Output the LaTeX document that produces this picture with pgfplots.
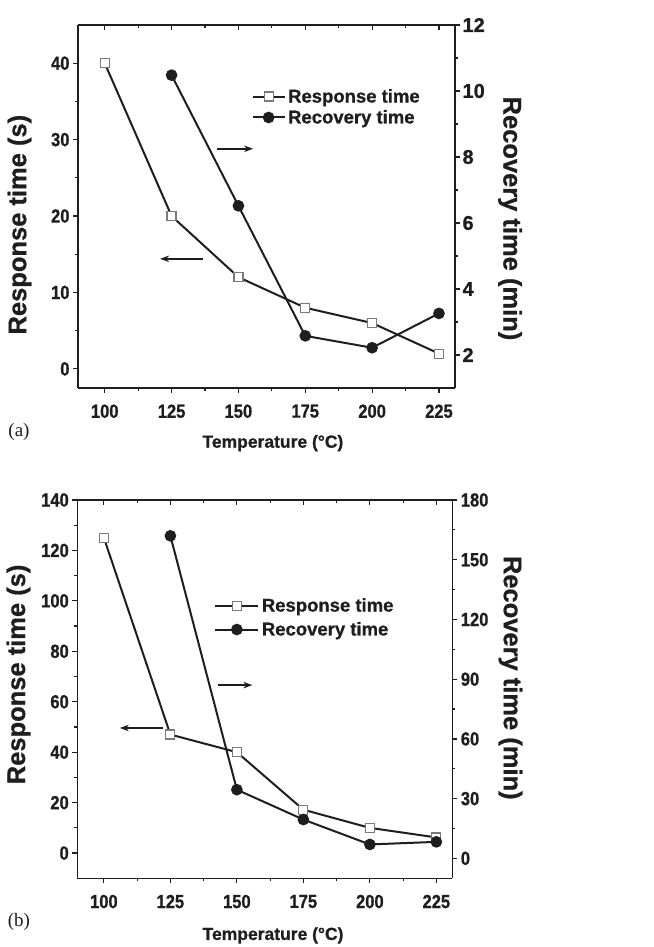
\documentclass[border=0pt]{standalone}
\usepackage{pgfplots}
\pgfplotsset{compat=1.18}
\usetikzlibrary{arrows.meta}
\usepackage{fontspec}
\setmainfont{Liberation Sans}[BoldFeatures={FakeBold=0.8}]
\newfontfamily\condfont{Liberation Sans}[FakeStretch=0.87, BoldFeatures={FakeBold=0.8}]
\newfontfamily\serifont{Liberation Serif}

\definecolor{ink}{HTML}{1E1E1E}
\definecolor{sqedge}{HTML}{7A7A7A}

\pgfplotsset{
  panel/.style={
    scale only axis, anchor=south west,
    xmin=90, xmax=231,
    xtick={100,125,...,225}, minor x tick num=1,
    axis line style={line width=1.4pt, ink},
    every tick/.style={line width=1.2pt, ink},
    major tick length=5pt, minor tick length=3pt,
    /pgf/number format/assume math mode=true,
    tick label style={font=\condfont\bfseries\fontsize{19}{19}\selectfont, text=ink},
    label style={font=\bfseries\fontsize{25.5}{25.5}\selectfont, text=ink},
  },
  resp/.style={ink, line width=2pt, mark=square*, mark size=4.5pt,
    mark options={fill=white, draw=sqedge, line width=1.2pt}},
  recv/.style={ink, line width=2pt, mark=*, mark size=4.8pt,
    mark options={fill=ink, draw=ink}},
  leg/.style 2 args={legend style={draw=none, fill=none, inner sep=0pt,
      font=\bfseries\fontsize{18.5}{18.5}\selectfont, text=ink,
      nodes={inner ysep=1.5pt, inner xsep=2.5pt}, row sep=#1},
    legend cell align=left,
    legend image code/.code={%
      \draw[mark repeat=2, mark phase=2] plot coordinates {(0pt,0pt) (#2/2,0pt) (#2,0pt)};}},
}

\begin{document}
\begin{tikzpicture}[x=1pt, y=1pt]
\path (0,0) rectangle (653,947);

% ---------------- (a) ----------------
\begin{axis}[panel, at={(78pt,559pt)}, width=377pt, height=363pt,
  ymin=-2.5, ymax=45, ytick={0,10,...,40}, minor y tick num=1,
  axis x line*=bottom, axis y line*=left, tick align=outside,
  xlabel={Temperature (\textdegree C)},
  ylabel={Response time (s)},
  x label style={at={(axis description cs:0.517,-0.152)}, anchor=center, font=\bfseries\fontsize{17.5}{17.5}\selectfont},
  y label style={at={(axis description cs:-0.155,0.45)}, anchor=center, rotate=0},
  xticklabel style={yshift=-8pt},
]
\addplot[resp] coordinates {(100,40) (125,20) (150,12) (175,8) (200,6) (225,2)};
\draw[-{Stealth[length=9pt,width=6.5pt]}, line width=1.8pt, ink] (axis cs:142,28.8) -- (axis cs:155.5,28.8);
\draw[-{Stealth[length=9pt,width=6.5pt]}, line width=1.8pt, ink] (axis cs:136.7,14.4) -- (axis cs:120.7,14.4);
\end{axis}

\begin{axis}[panel, at={(78pt,559pt)}, width=377pt, height=363pt,
  ymin=1, ymax=12, ytick={2,4,...,12}, minor y tick num=1,
  axis x line=none, axis y line*=right, tick align=outside,
  ylabel={Recovery time (min)},
  y label style={at={(axis description cs:1.146,0.467)}, anchor=center, rotate=180},
  yticklabel style={font=\bfseries\fontsize{20}{20}\selectfont, xshift=-1pt},
  leg={3pt}{32pt},
  legend style={at={(axis description cs:0.46,0.828)}, anchor=north west},
]
\addlegendimage{resp}
\addlegendentry{Response time}
\addplot[recv] coordinates {(125,10.48) (150,6.52) (175,2.58) (200,2.22) (225,3.26)};
\addlegendentry{Recovery time}
\end{axis}

\begin{axis}[panel, at={(78pt,559pt)}, width=377pt, height=363pt,
  ymin=0, ymax=1, axis y line=none, axis x line*=top, tick align=inside,
  xticklabels={},
]
\end{axis}

\node[font=\serifont\fontsize{19}{19}\selectfont, text=ink] at (19,515) {(a)};

% ---------------- (b) ----------------
\begin{axis}[panel, at={(77.3pt,68.7pt)}, width=375pt, height=378.3pt,
  ymin=-10, ymax=140, ytick={0,20,...,140}, minor y tick num=1,
  axis x line*=bottom, axis y line*=left, tick align=outside,
  xlabel={Temperature (\textdegree C)},
  ylabel={Response time (s)},
  x label style={at={(axis description cs:0.522,-0.151)}, anchor=center, font=\bfseries\fontsize{17.5}{17.5}\selectfont},
  y label style={at={(axis description cs:-0.157,0.539)}, anchor=center, rotate=0},
  xticklabel style={yshift=-8pt},
]
\addplot[resp] coordinates {(100,125) (125,47) (150,40) (175,17.2) (200,10) (225,6.2)};
\draw[-{Stealth[length=9pt,width=6.5pt]}, line width=1.8pt, ink] (axis cs:142.9,66.6) -- (axis cs:155.8,66.6);
\draw[-{Stealth[length=9pt,width=6.5pt]}, line width=1.8pt, ink] (axis cs:122.2,49.6) -- (axis cs:106,49.6);
\end{axis}

\begin{axis}[panel, at={(77.3pt,68.7pt)}, width=375pt, height=378.3pt,
  ymin=-10, ymax=180, ytick={0,30,...,180}, minor y tick num=1,
  axis x line=none, axis y line*=right, tick align=outside,
  ylabel={Recovery time (min)},
  y label style={at={(axis description cs:1.155,0.53)}, anchor=center, rotate=180},
  leg={6pt}{43pt},
  legend style={at={(axis description cs:0.365,0.745)}, anchor=north west},
]
\addlegendimage{resp}
\addlegendentry{Response time}
\addplot[recv] coordinates {(125,162) (150,34.5) (175,19.5) (200,7) (225,8.3)};
\addlegendentry{Recovery time}
\end{axis}

\begin{axis}[panel, at={(77.3pt,68.7pt)}, width=375pt, height=378.3pt,
  ymin=0, ymax=1, axis y line=none, axis x line*=top, tick align=inside,
  xticklabels={},
]
\end{axis}

\node[font=\serifont\fontsize{19}{19}\selectfont, text=ink] at (19,25) {(b)};
\end{tikzpicture}
\end{document}
